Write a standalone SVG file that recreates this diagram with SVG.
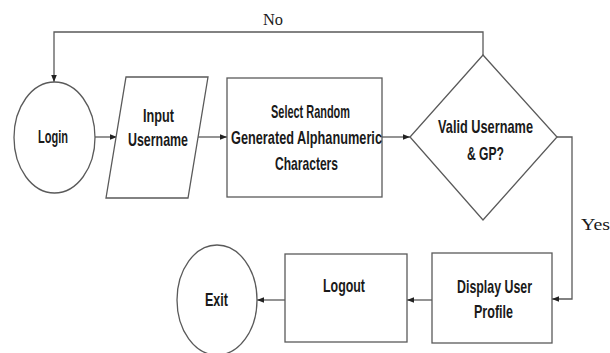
<svg xmlns="http://www.w3.org/2000/svg" width="610" height="353" viewBox="0 0 610 353">
  <style>
    .shape { fill: #ffffff; stroke: #5a5a5a; stroke-width: 1.3; }
    .wire { fill: none; stroke: #5a5a5a; stroke-width: 1.3; }
    .lbl { font-family: "Liberation Sans", Arial, sans-serif; font-weight: bold; font-size: 19px; fill: #1a1a1a; text-anchor: middle; }
    .cond { font-family: "Liberation Serif", "Times New Roman", serif; font-size: 17px; fill: #1a1a1a; }
  </style>
  <defs>
    <marker id="arrow" viewBox="0 0 8 8" refX="8" refY="4" markerWidth="7" markerHeight="7" markerUnits="userSpaceOnUse" orient="auto">
      <path d="M0,0.8 L8,4 L0,7.2 Z" fill="#222222"/>
    </marker>
  </defs>
  <rect width="610" height="353" fill="#ffffff"/>

  <g id="connectors">
    <!-- retry loop back to Login -->
    <polyline class="wire" points="483,55 483,32 54,32 54,82" marker-end="url(#arrow)"/>
    <line class="wire" x1="95" y1="137" x2="117" y2="137" marker-end="url(#arrow)"/>
    <line class="wire" x1="198" y1="137" x2="227" y2="137" marker-end="url(#arrow)"/>
    <line class="wire" x1="382" y1="137" x2="410" y2="137" marker-end="url(#arrow)"/>
    <polyline class="wire" points="557,137 572,137 572,299 552,299" marker-end="url(#arrow)"/>
    <line class="wire" x1="432" y1="300" x2="407" y2="300" marker-end="url(#arrow)"/>
    <line class="wire" x1="285" y1="300" x2="257" y2="300" marker-end="url(#arrow)"/>
    <text class="cond" x="263" y="25" textLength="20" lengthAdjust="spacingAndGlyphs">No</text>
    <text class="cond" x="581" y="230" textLength="29" lengthAdjust="spacingAndGlyphs">Yes</text>
  </g>

  <g id="login">
    <ellipse class="shape" cx="54.5" cy="137.5" rx="40.5" ry="55.5"/>
    <text class="lbl" x="53" y="143" textLength="30" lengthAdjust="spacingAndGlyphs">Login</text>
  </g>

  <g id="input-username">
    <polygon class="shape" points="126,77 208,77 188,198 106,198"/>
    <text class="lbl" x="158.5" y="122" textLength="31" lengthAdjust="spacingAndGlyphs">Input</text>
    <text class="lbl" x="158" y="146" textLength="60" lengthAdjust="spacingAndGlyphs">Username</text>
  </g>

  <g id="select-characters">
    <rect class="shape" x="227" y="78" width="155" height="119"/>
    <text class="lbl" x="310.5" y="118" textLength="79" lengthAdjust="spacingAndGlyphs">Select Random</text>
    <text class="lbl" x="306.5" y="144" textLength="151" lengthAdjust="spacingAndGlyphs">Generated Alphanumeric</text>
    <text class="lbl" x="306.5" y="170" textLength="63" lengthAdjust="spacingAndGlyphs">Characters</text>
  </g>

  <g id="validate">
    <polygon class="shape" points="483,55 557,137 483,220 410,137"/>
    <text class="lbl" x="485.5" y="133" textLength="95" lengthAdjust="spacingAndGlyphs">Valid Username</text>
    <text class="lbl" x="485.5" y="160" textLength="37" lengthAdjust="spacingAndGlyphs">&amp; GP?</text>
  </g>

  <g id="display-profile">
    <rect class="shape" x="432" y="253" width="120" height="90"/>
    <text class="lbl" x="494.5" y="293" textLength="75" lengthAdjust="spacingAndGlyphs">Display User</text>
    <text class="lbl" x="493.5" y="318" textLength="39" lengthAdjust="spacingAndGlyphs">Profile</text>
  </g>

  <g id="logout">
    <rect class="shape" x="285" y="254" width="122" height="88"/>
    <text class="lbl" x="344" y="292" textLength="42" lengthAdjust="spacingAndGlyphs">Logout</text>
  </g>

  <g id="exit">
    <ellipse class="shape" cx="217" cy="300" rx="40" ry="55"/>
    <text class="lbl" x="216.5" y="306" textLength="23" lengthAdjust="spacingAndGlyphs">Exit</text>
  </g>
</svg>
